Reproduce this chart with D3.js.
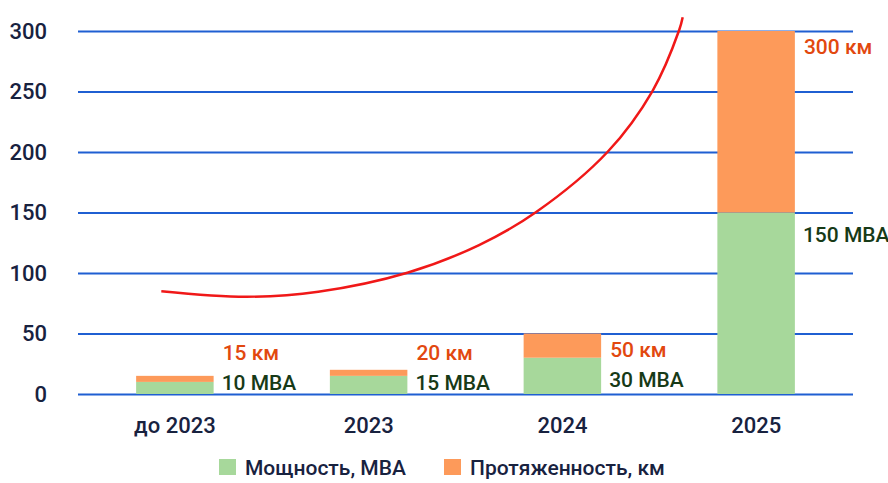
<!DOCTYPE html>
<html>
<head>
<meta charset="utf-8">
<script src="https://cdn.jsdelivr.net/npm/d3@7"></script>
<style>
  html, body { margin: 0; padding: 0; background: #ffffff; }
  svg { display: block; }
  text { font-family: Roboto, "Noto Sans", sans-serif; font-weight: 500; }
</style>
</head>
<body>
<svg id="chart" width="888" height="483"></svg>
<script>
// ---- data ----
const categories = ["до 2023", "2023", "2024", "2025"];
const powerMVA = [10, 15, 30, 150];          // Мощность, МВА
const lengthKm = [15, 20, 50, 300];          // Протяженность, км
const yTicks = [0, 50, 100, 150, 200, 250, 300];
const seriesNames = ["Мощность, МВА", "Протяженность, км"];
// red trend curve: [position in categories (0 = first category centre), value]
const trendPos = [-0.07, 0.37, 0.74, 1.20, 1.57, 1.865, 2.234, 2.465, 2.603, 2.621];
const trendVal = [85, 80.4, 84.5, 100.2, 123.1, 150.4, 200.2, 250.4, 300.8, 311.3];

(function () {
// ---- setup ----
const svg = d3.select("#chart");
const colors = { green: "#a7d89b", orange: "#fd9a5a", grid: "#1f5fd2",
                 navy: "#18223f", km: "#e2480f", mva: "#173a17", trend: "#f01818" };
const pLeft = 78, pRight = 853, pTop = 31, pBottom = 394;

const x = d3.scaleBand().domain(categories).range([pLeft, pRight])
  .paddingInner(0.6).paddingOuter(0.3);
const y = d3.scaleLinear().domain([0, 300]).range([pBottom, pTop]);

// gridlines via axis
const gridAxis = d3.axisLeft(y).tickValues(yTicks).tickSize(-(pRight - pLeft)).tickFormat("");
const g = svg.append("g").attr("transform", `translate(${pLeft},0)`).call(gridAxis);
g.select(".domain").remove();
g.selectAll(".tick line").attr("stroke", colors.grid).attr("stroke-width", 2);

// y tick labels
const yAxis = d3.axisLeft(y).tickValues(yTicks).tickSize(0).tickPadding(0);
const ya = svg.append("g").attr("transform", `translate(47,0)`).call(yAxis);
ya.select(".domain").remove();
ya.selectAll(".tick text").attr("font-size", 22).attr("fill", colors.navy)
  .attr("font-family", "Roboto, sans-serif").attr("font-weight", 500);

// stacked bars
const rows = categories.map((c, i) => ({ cat: c, mva: powerMVA[i], km: lengthKm[i] }));
svg.append("g").selectAll("rect").data(rows).join("rect")
  .attr("x", d => x(d.cat)).attr("width", x.bandwidth())
  .attr("y", d => y(d.mva)).attr("height", d => y(0) - y(d.mva))
  .attr("fill", colors.green);
svg.append("g").selectAll("rect").data(rows).join("rect")
  .attr("x", d => x(d.cat)).attr("width", x.bandwidth())
  .attr("y", d => y(d.km)).attr("height", d => y(d.mva) - y(d.km))
  .attr("fill", colors.orange);

// value labels
svg.append("g").selectAll("text").data(rows).join("text")
  .attr("x", d => x(d.cat) + x.bandwidth() + 9)
  .attr("y", d => Math.min(y(d.km) + 23, y(0) - 34))
  .attr("font-size", 21).attr("fill", colors.km)
  .text(d => d.km + " км");
svg.append("g").selectAll("text").data(rows).join("text")
  .attr("x", d => x(d.cat) + x.bandwidth() + 8)
  .attr("y", d => Math.min(y(d.mva) + 29, y(0) - 4))
  .attr("font-size", 21).attr("fill", colors.mva)
  .text(d => d.mva + " МВА");

// category axis
const xAxis = d3.axisBottom(x).tickSize(0).tickPadding(0);
const xa = svg.append("g").attr("transform", `translate(0,433)`).call(xAxis);
xa.select(".domain").remove();
xa.selectAll(".tick text").attr("font-size", 22).attr("fill", colors.navy)
  .attr("dy", 0).attr("font-family", "Roboto, sans-serif").attr("font-weight", 500);

// trend curve
const step = x.step();
const cx0 = x(categories[0]) + x.bandwidth() / 2;
const trend = trendPos.map((p, i) => [cx0 + p * step, y(trendVal[i])]);
svg.append("path").datum(trend)
  .attr("d", d3.line().curve(d3.curveCatmullRom.alpha(0.5)))
  .attr("fill", "none").attr("stroke", colors.trend).attr("stroke-width", 2.5);

// legend
const legend = [
  { name: seriesNames[0], color: colors.green, x: 219 },
  { name: seriesNames[1], color: colors.orange, x: 444 }
];
const lg = svg.append("g").selectAll("g").data(legend).join("g")
  .attr("transform", d => `translate(${d.x},467)`);
lg.append("rect").attr("x", 0).attr("y", -8).attr("width", 17).attr("height", 16)
  .attr("fill", d => d.color);
lg.append("text").attr("x", 26).attr("y", 8).attr("font-size", 21)
  .attr("fill", colors.navy).text(d => d.name);
})();
</script>
</body>
</html>
